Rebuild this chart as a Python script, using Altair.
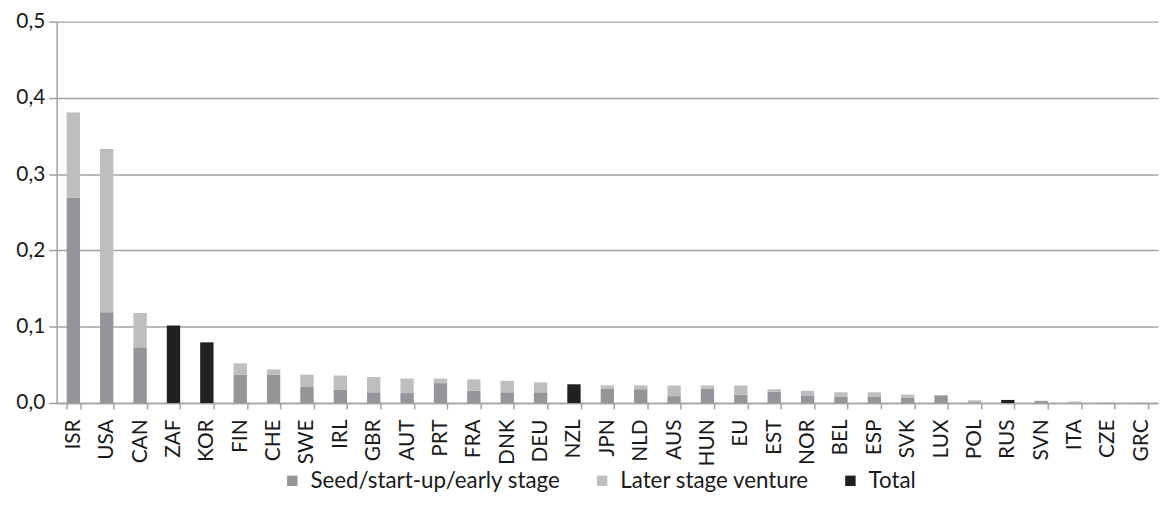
import altair as alt
import pandas as pd

countries = ["ISR", "USA", "CAN", "ZAF", "KOR", "FIN", "CHE", "SWE", "IRL", "GBR",
             "AUT", "PRT", "FRA", "DNK", "DEU", "NZL", "JPN", "NLD", "AUS", "HUN",
             "EU", "EST", "NOR", "BEL", "ESP", "SVK", "LUX", "POL", "RUS", "SVN",
             "ITA", "CZE", "GRC"]
seed = [0.269, 0.119, 0.073, 0.0, 0.0, 0.037, 0.037, 0.021, 0.017, 0.014,
        0.013, 0.026, 0.016, 0.014, 0.014, 0.0, 0.019, 0.018, 0.009, 0.019,
        0.011, 0.015, 0.010, 0.008, 0.008, 0.007, 0.010, 0.001, 0.0, 0.0025,
        0.0005, 0.0002, 0.0001]
later = [0.112, 0.214, 0.045, 0.0, 0.0, 0.015, 0.007, 0.016, 0.019, 0.020,
         0.019, 0.006, 0.015, 0.015, 0.013, 0.0, 0.004, 0.005, 0.014, 0.004,
         0.012, 0.003, 0.006, 0.006, 0.006, 0.004, 0.0, 0.0025, 0.0, 0.0005,
         0.0015, 0.0003, 0.0002]
total = [0.0, 0.0, 0.0, 0.1015, 0.0795, 0.0, 0.0, 0.0, 0.0, 0.0,
         0.0, 0.0, 0.0, 0.0, 0.0, 0.0245, 0.0, 0.0, 0.0, 0.0,
         0.0, 0.0, 0.0, 0.0, 0.0, 0.0, 0.0, 0.0, 0.004, 0.0,
         0.0, 0.0, 0.0]

series_names = ["Seed/start-up/early stage", "Later stage venture", "Total"]
series_colors = ["#939598", "#bcbec0", "#231f20"]

rows = []
for i, c in enumerate(countries):
    for k, vals in enumerate([seed, later, total]):
        rows.append({"country": c, "series": series_names[k], "value": vals[i], "ord": k})
df = pd.DataFrame(rows)

FONT = "Lato"
FS = 21
GRID = "#a3a3a3"

chart = alt.Chart(df).mark_bar().encode(
    x=alt.X("country:N", sort=countries, title=None,
            scale=alt.Scale(paddingInner=0.6, paddingOuter=0.3),
            axis=alt.Axis(labelAngle=-90, labelFont=FONT, labelFontSize=FS,
                          labelColor="#1a1a1a", tickBand="extent", tickSize=6,
                          tickColor=GRID, tickWidth=1.5, domainColor=GRID,
                          domainWidth=1.5, labelPadding=10)),
    y=alt.Y("value:Q", title=None, stack="zero",
            scale=alt.Scale(domain=[0, 0.5], nice=False),
            axis=alt.Axis(values=[0, 0.1, 0.2, 0.3, 0.4, 0.5],
                          labelExpr="replace(format(datum.value, '.1f'), '.', ',')",
                          labelFont=FONT, labelFontSize=FS, labelColor="#1a1a1a",
                          gridColor=GRID, gridWidth=1.5, tickColor=GRID,
                          tickWidth=1.5, tickSize=8, domainColor=GRID,
                          domainWidth=1.5, labelPadding=4)),
    color=alt.Color("series:N",
                    scale=alt.Scale(domain=series_names, range=series_colors),
                    legend=alt.Legend(title=None, orient="none", direction="horizontal",
                                      legendX=226, legendY=451, symbolType="square",
                                      symbolSize=110, symbolStrokeWidth=0,
                                      labelFont=FONT, labelFontSize=22.5, labelLimit=400,
                                      labelColor="#1a1a1a", columnPadding=30,
                                      labelOffset=7)),
    order=alt.Order("ord:Q"),
).properties(
    width=1109, height=384,
    autosize=alt.AutoSizeParams(type="none"),
    padding={"left": 49, "top": 12, "right": 2, "bottom": 100},
).configure_view(stroke=None)

chart.save("out.html", embed_options={"renderer": "svg", "actions": False})
